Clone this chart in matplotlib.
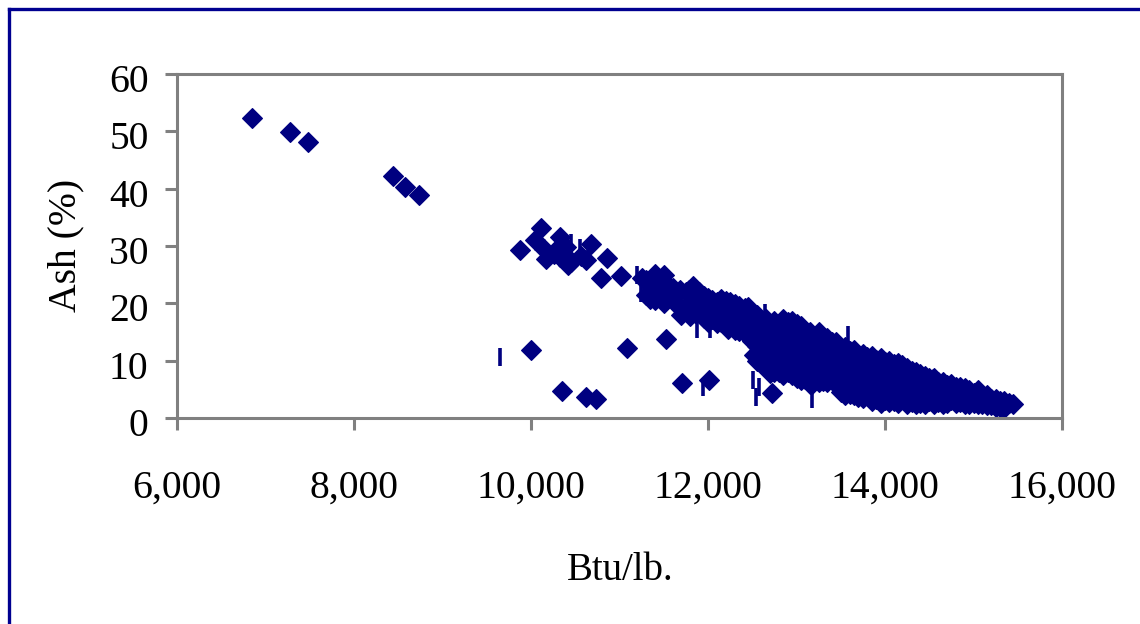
import matplotlib
matplotlib.use("Agg")
import matplotlib.pyplot as plt
from matplotlib.lines import Line2D
from matplotlib.ticker import FuncFormatter
from matplotlib.transforms import ScaledTranslation

plt.rcParams['font.family'] = ['Liberation Serif', 'DejaVu Serif']

# Isolated and sparse samples
sparse_btu = [6847, 7277, 7480, 8440, 8576, 8734, 9876, 10113, 10328, 10678, 10859, 10791, 11017,
              10050, 10150, 10170, 10260, 10330, 10400, 10420, 10450, 10560, 10620, 10300, 10380,
              10000, 11085, 11525, 10350, 10621, 10734, 11706, 12011, 12723, 12590, 12700, 12920]
sparse_ash = [52.3, 49.9, 48.1, 42.2, 40.3, 38.9, 29.3, 33.1, 31.6, 30.4, 27.9, 24.4, 24.8,
              31.0, 29.5, 27.8, 28.6, 28.0, 29.8, 26.6, 27.2, 28.2, 27.6, 29.6, 28.4,
              11.9, 12.2, 13.8, 4.7, 3.7, 3.3, 6.1, 6.6, 4.4, 9.6, 7.8, 8.5]

# Dense band, listed column by column
band_btu = [11250, 11300, 11300, 11400, 11400, 11400, 11500, 11500, 11500, 11520,
            11680, 11680, 11700, 11780, 11800, 11800, 11830, 11900, 11900, 11950,
            12000, 12000, 12000, 12050, 12100, 12100, 12100, 12200, 12200, 12200, 12230,
            12300, 12300, 12300, 12420, 12420, 12420, 12440, 12500, 12500, 12500, 12520,
            12600, 12600, 12600, 12600, 12640, 12640, 12700, 12700, 12700, 12800, 12800,
            12800, 12800, 12800, 12900, 12900, 12900, 12900, 12900, 13000, 13000, 13000,
            13000, 13000, 13100, 13100, 13100, 13100, 13100, 13180, 13200, 13200, 13200,
            13200, 13270, 13300, 13300, 13300, 13300, 13300, 13400, 13400, 13400, 13400,
            13470, 13500, 13500, 13500, 13500, 13500, 13600, 13600, 13600, 13600, 13600,
            13700, 13700, 13700, 13700, 13700, 13800, 13800, 13800, 13800, 13860, 13900,
            13900, 13900, 13900, 13950, 14000, 14000, 14000, 14000, 14100, 14100, 14100,
            14100, 14190, 14200, 14200, 14200, 14300, 14300, 14300, 14300, 14400, 14400,
            14400, 14400, 14500, 14500, 14500, 14540, 14600, 14600, 14600, 14700, 14700,
            14700, 14750, 14800, 14800, 14800, 14900, 14900, 14900, 15040, 15000, 15000,
            15100, 15100, 15200, 15200, 15300, 15300, 15300, 15400, 15450]
band_ash = [24.5, 24.0, 21.5, 25.2, 22.5, 20.5, 25.0, 22.0, 20.0, 23.5,
            22.4, 19.2, 18.0, 22.3, 20.0, 17.8, 23.0, 22.0, 19.0, 18.2,
            21.0, 18.6, 16.8, 20.6, 20.2, 18.4, 16.6, 20.4, 18.0, 16.2, 15.6,
            19.8, 17.6, 15.4, 19.2, 16.8, 14.8, 14.6, 18.0, 15.8, 13.4, 11.0,
            17.0, 15.0, 12.8, 10.4, 16.7, 12.0, 16.2, 13.8, 11.2, 16.4, 14.0, 11.6,
            9.2, 8.0, 16.8, 14.4, 12.0, 9.8, 8.0, 16.4, 14.0, 11.6, 9.2, 7.0,
            15.2, 12.8, 10.4, 8.4, 6.8, 6.0, 14.2, 11.8, 9.4, 7.2, 14.6, 13.6, 11.4,
            9.0, 7.4, 6.4, 13.2, 10.8, 8.6, 6.6, 12.8, 12.0, 9.8, 7.6, 5.8, 4.6,
            11.6, 9.2, 7.0, 5.4, 4.2, 11.0, 8.8, 6.6, 4.8, 3.6, 10.6, 8.2, 6.0, 4.0,
            10.3, 10.2, 7.8, 5.6, 3.4, 2.8, 9.8, 7.4, 5.2, 3.2, 9.4, 7.0, 5.0, 3.0,
            9.2, 8.8, 6.6, 4.4, 8.2, 6.2, 4.2, 2.8, 7.6, 5.6, 3.8, 2.6, 7.0, 5.0, 3.0,
            6.8, 6.2, 4.4, 2.8, 5.8, 4.0, 2.6, 5.7, 5.4, 3.8, 2.6, 5.2, 3.4, 2.4,
            4.5, 4.4, 2.6, 3.9, 2.4, 3.4, 2.3, 3.0, 2.4, 1.9, 2.7, 2.5]

# In-between samples of the band, also listed column by column
fill_btu = [11350, 11350, 11450, 11450, 11600, 11600, 11750, 11750, 11850, 11850, 11950, 11950,
            12050, 12050, 12150, 12150, 12150, 12250, 12250, 12250, 12350, 12350, 12350,
            12450, 12450, 12450, 12550, 12550, 12550, 12550,
            12650, 12650, 12650, 12650, 12750, 12750, 12750, 12750, 12750,
            12850, 12850, 12850, 12850, 12850, 12950, 12950, 12950, 12950, 12950,
            13050, 13050, 13050, 13050, 13050, 13150, 13150, 13150, 13150, 13150,
            13250, 13250, 13250, 13250, 13250, 13350, 13350, 13350, 13350,
            13450, 13450, 13450, 13450, 13550, 13550, 13550, 13550, 13550,
            13650, 13650, 13650, 13650, 13650, 13750, 13750, 13750, 13750, 13750,
            13850, 13850, 13850, 13850, 13850, 13950, 13950, 13950, 13950, 13950,
            14050, 14050, 14050, 14050, 14150, 14150, 14150, 14150,
            14250, 14250, 14250, 14250, 14350, 14350, 14350, 14350,
            14450, 14450, 14450, 14550, 14550, 14550, 14650, 14650, 14650,
            14750, 14750, 14850, 14850, 14950, 14950, 15050, 15050, 15150, 15150,
            15250, 15250, 15350, 15350]
fill_ash = [23.2, 20.8, 23.6, 21.2, 22.6, 20.6, 22.0, 18.6, 21.6, 18.4, 21.2, 17.4,
            19.4, 17.2, 20.8, 19.0, 16.8, 20.2, 18.2, 16.0, 19.6, 17.4, 15.2,
            19.3, 16.8, 14.5, 18.0, 15.2, 12.6, 10.0,
            17.2, 14.6, 11.8, 9.0, 17.0, 14.6, 12.4, 10.0, 8.0,
            17.2, 14.8, 12.4, 10.0, 7.5, 17.0, 14.6, 12.2, 9.8, 7.5,
            16.0, 13.6, 11.2, 8.8, 6.6, 15.0, 12.6, 10.2, 8.0, 6.0,
            15.0, 12.6, 10.2, 8.2, 6.3, 14.0, 11.6, 9.2, 6.3,
            13.2, 10.8, 8.4, 6.0, 12.4, 10.2, 8.0, 6.0, 4.0,
            11.8, 9.6, 7.6, 5.8, 4.0, 11.2, 9.0, 7.0, 5.2, 3.5,
            10.8, 8.8, 6.8, 4.8, 3.0, 10.4, 8.4, 6.2, 4.4, 2.6,
            10.0, 7.8, 5.6, 2.8, 9.6, 7.2, 5.0, 2.6,
            8.8, 6.4, 4.2, 2.4, 8.0, 6.0, 4.0, 2.4,
            7.4, 5.0, 2.5, 7.0, 4.6, 2.4, 6.2, 4.2, 2.4,
            6.0, 3.2, 5.4, 2.8, 4.8, 2.4, 4.8, 2.4, 4.0, 2.2,
            3.4, 2.0, 3.0, 1.7]

# Second series, drawn as short vertical dashes
dash_btu = [9650, 10450, 10550, 10660, 11198, 11243, 11876, 12023, 11944, 12508, 12576, 12542,
            12644, 13175, 13582]
dash_ash = [10.6, 30.6, 29.6, 28.6, 25.0, 21.8, 15.6, 15.6, 5.4, 6.6, 5.4, 3.6, 18.3, 3.3, 14.5]

x_ticks = [6000, 8000, 10000, 12000, 14000, 16000]
y_ticks = [0, 10, 20, 30, 40, 50, 60]
x_label = "Btu/lb."
y_label = "Ash (%)"

W, H = 1140, 624
fig = plt.figure(figsize=(W / 100, H / 100), dpi=100, facecolor="white")
ax = fig.add_axes([177 / W, 1 - 418 / H, (1062 - 177) / W, (418 - 74) / H])

navy = "#000080"
ax.plot(dash_btu, dash_ash, linestyle="none", marker="|", markersize=12.5,
        markeredgewidth=2.6, color=navy, clip_on=False)
ax.plot(sparse_btu + band_btu + fill_btu, sparse_ash + band_ash + fill_ash, linestyle="none",
        marker="D", markersize=9.8, markerfacecolor=navy, markeredgecolor=navy,
        markeredgewidth=0.8, clip_on=False)

ax.set_xlim(6000, 16000)
ax.set_ylim(0, 60)
ax.set_xticks(x_ticks)
ax.set_yticks(y_ticks)
ax.xaxis.set_major_formatter(FuncFormatter(lambda v, _: f"{int(v):,}"))
ax.tick_params(axis="both", direction="out", length=8.5, width=2.2, color="#808080",
               labelsize=28.5, labelcolor="black")
ax.tick_params(axis="x", pad=29)
ax.tick_params(axis="y", pad=12)

shift = ScaledTranslation(0, -3 / 72, fig.dpi_scale_trans)
for lab in ax.get_yticklabels():
    lab.set_transform(lab.get_transform() + shift)

for side in ax.spines.values():
    side.set_color("#808080")
    side.set_linewidth(2.2)

fig.text(620 / W, 1 - 571 / H, x_label, ha="center", va="center", fontsize=28)
fig.text(66 / W, 1 - 245 / H, y_label, ha="center", va="center", rotation=90, fontsize=28.5)

# Outer navy frame: left and top edges only are visible
fig.add_artist(Line2D([8.5 / W, 8.5 / W], [0, 1 - 8.5 / H], color="#000090", linewidth=2.4,
                      solid_capstyle="projecting"))
fig.add_artist(Line2D([8.5 / W, 1], [1 - 8.5 / H, 1 - 8.5 / H], color="#000090", linewidth=2.4,
                      solid_capstyle="projecting"))

fig.savefig("out.png", dpi=100)
